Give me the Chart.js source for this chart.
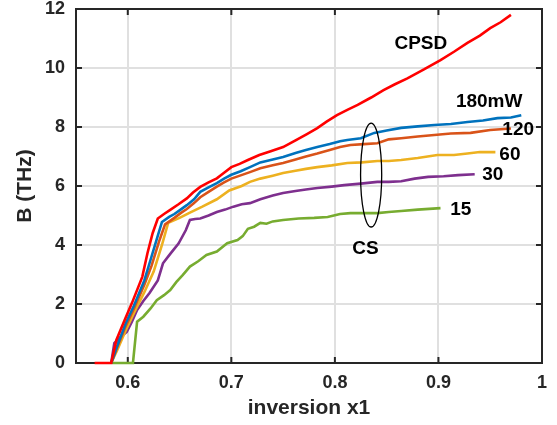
<!DOCTYPE html>
<html>
<head>
<meta charset="utf-8">
<script src="https://cdn.jsdelivr.net/npm/chart.js@4/dist/chart.umd.min.js"></script>
<style>
html,body{margin:0;padding:0;background:#fff;}
canvas{display:block;}
</style>
</head>
<body>
<canvas id="c" width="557" height="425"></canvas>
<script>
// ---- data ----
const xTickVals = [0.6, 0.7, 0.8, 0.9, 1.0];
const yTickVals = [0, 2, 4, 6, 8, 10, 12];

const redX = [0.568,0.584,0.589,0.597,0.604,0.614,0.619,0.624,0.629,0.635,0.641,0.649,0.657,0.663,0.670,0.678,0.686,0.693,0.700,0.708,0.716,0.727,0.738,0.750,0.762,0.773,0.783,0.792,0.802,0.812,0.822,0.835,0.847,0.858,0.870,0.886,0.902,0.915,0.928,0.940,0.950,0.960,0.970];
const redY = [0,0,0.78,1.46,2.03,2.92,3.72,4.40,4.90,5.05,5.19,5.38,5.58,5.78,5.97,6.12,6.26,6.45,6.64,6.75,6.88,7.05,7.18,7.32,7.55,7.76,7.96,8.18,8.40,8.58,8.75,9.00,9.25,9.45,9.65,9.95,10.27,10.55,10.85,11.10,11.35,11.55,11.80];

const blueX = [0.584,0.590,0.598,0.606,0.616,0.622,0.628,0.633,0.640,0.645,0.651,0.657,0.664,0.670,0.678,0.686,0.693,0.700,0.709,0.718,0.728,0.740,0.750,0.762,0.772,0.783,0.795,0.805,0.812,0.825,0.838,0.850,0.864,0.880,0.896,0.912,0.928,0.943,0.957,0.970,0.980];
const blueY = [0,0.60,1.35,1.95,2.80,3.50,4.20,4.78,4.95,5.05,5.20,5.35,5.55,5.80,5.95,6.10,6.25,6.38,6.50,6.64,6.80,6.90,6.98,7.12,7.22,7.32,7.42,7.52,7.56,7.62,7.80,7.88,7.97,8.02,8.07,8.10,8.17,8.22,8.30,8.32,8.40];

const orangeX = [0.584,0.590,0.598,0.606,0.616,0.623,0.630,0.636,0.645,0.651,0.657,0.664,0.670,0.678,0.686,0.693,0.700,0.709,0.718,0.728,0.740,0.750,0.762,0.772,0.783,0.795,0.805,0.815,0.828,0.841,0.852,0.864,0.880,0.896,0.912,0.931,0.950,0.970];
const orangeY = [0,0.55,1.25,1.85,2.65,3.30,4.10,4.70,4.92,5.08,5.22,5.42,5.62,5.80,5.98,6.12,6.25,6.36,6.47,6.60,6.70,6.78,6.90,7.00,7.10,7.22,7.32,7.39,7.42,7.45,7.58,7.62,7.68,7.73,7.78,7.80,7.90,7.95];

const yellowX = [0.584,0.590,0.598,0.606,0.616,0.625,0.633,0.639,0.650,0.660,0.672,0.686,0.698,0.710,0.718,0.728,0.740,0.750,0.762,0.772,0.783,0.797,0.812,0.826,0.841,0.852,0.864,0.880,0.899,0.915,0.928,0.940,0.955];
const yellowY = [0,0.45,1.10,1.70,2.40,3.10,4.00,4.75,4.92,5.10,5.30,5.55,5.85,6.00,6.14,6.25,6.35,6.44,6.52,6.58,6.64,6.70,6.78,6.80,6.85,6.85,6.88,6.95,7.05,7.05,7.10,7.15,7.15];

const purpleX = [0.584,0.587,0.593,0.599,0.604,0.609,0.615,0.621,0.629,0.634,0.641,0.649,0.656,0.660,0.665,0.670,0.678,0.686,0.694,0.702,0.710,0.718,0.728,0.740,0.750,0.762,0.772,0.783,0.797,0.809,0.825,0.841,0.852,0.864,0.877,0.890,0.905,0.919,0.935];
const purpleY = [0,0.67,0.88,1.05,1.40,1.80,2.10,2.37,2.80,3.38,3.70,4.05,4.50,4.85,4.88,4.90,5.00,5.12,5.20,5.30,5.38,5.42,5.55,5.68,5.76,5.83,5.88,5.93,5.98,6.03,6.08,6.14,6.14,6.16,6.25,6.31,6.33,6.37,6.40];

const greenX = [0.585,0.605,0.609,0.615,0.622,0.628,0.635,0.641,0.647,0.653,0.660,0.668,0.676,0.686,0.696,0.706,0.711,0.716,0.722,0.728,0.734,0.740,0.750,0.765,0.780,0.793,0.805,0.815,0.828,0.841,0.852,0.864,0.880,0.902];
const greenY = [0,0,1.40,1.57,1.85,2.13,2.30,2.47,2.75,2.98,3.27,3.45,3.66,3.78,4.06,4.17,4.30,4.55,4.62,4.75,4.72,4.80,4.85,4.90,4.92,4.95,5.05,5.08,5.08,5.08,5.12,5.15,5.20,5.25];

const seriesNames = ['CPSD', '180mW', '120', '60', '30', '15'];
const annoText = ['CPSD', '180mW', '120', '60', '30', '15', 'CS'];
const annoX = [0.883, 0.949, 0.977, 0.969, 0.9525, 0.9215, 0.8295];
const annoY = [10.81, 8.86, 7.9, 7.05, 6.37, 5.19, 3.88];
// CS ellipse: centre and half-axes in data units
const ellipseC = [0.835, 6.37];
const ellipseR = [0.0102, 1.76];

// ---- build chart ----
const zip = (xs, ys) => xs.map((x, i) => ({x: x, y: ys[i]}));
const colors = ['#FF0000', '#0072BD', '#D95319', '#EDB120', '#7E2F8E', '#77AC30'];
const xs = [redX, blueX, orangeX, yellowX, purpleX, greenX];
const ys = [redY, blueY, orangeY, yellowY, purpleY, greenY];

const AX = '#262626';
const FONT = "'Liberation Sans', Arial, Helvetica, sans-serif";

const framePlugin = {
  id: 'frame',
  beforeDatasetsDraw(chart) {
    const {ctx, chartArea: a, scales: {x, y}} = chart;
    ctx.save();
    ctx.strokeStyle = AX;
    ctx.lineWidth = 2;
    ctx.strokeRect(a.left, a.top, a.right - a.left, a.bottom - a.top);
    const L = 6;
    ctx.beginPath();
    xTickVals.forEach(v => {
      const px = x.getPixelForValue(v);
      ctx.moveTo(px, a.bottom); ctx.lineTo(px, a.bottom - L);
      ctx.moveTo(px, a.top); ctx.lineTo(px, a.top + L);
    });
    yTickVals.forEach(v => {
      const py = y.getPixelForValue(v);
      ctx.moveTo(a.left, py); ctx.lineTo(a.left + L, py);
      ctx.moveTo(a.right, py); ctx.lineTo(a.right - L, py);
    });
    ctx.stroke();
    ctx.restore();
  },
  afterDatasetsDraw(chart) {
    const {ctx, scales: {x, y}} = chart;
    ctx.save();
    ctx.fillStyle = '#000';
    ctx.font = 'bold 19px ' + FONT;
    ctx.textAlign = 'center';
    ctx.textBaseline = 'middle';
    annoText.forEach((t, i) => {
      ctx.fillText(t, x.getPixelForValue(annoX[i]), y.getPixelForValue(annoY[i]));
    });
    const cx = x.getPixelForValue(ellipseC[0]);
    const cy = y.getPixelForValue(ellipseC[1]);
    const rx = Math.abs(x.getPixelForValue(ellipseC[0] + ellipseR[0]) - cx);
    const ry = Math.abs(y.getPixelForValue(ellipseC[1] + ellipseR[1]) - cy);
    ctx.beginPath();
    ctx.ellipse(cx, cy, rx, ry, 0, 0, Math.PI * 2);
    ctx.strokeStyle = '#000';
    ctx.lineWidth = 1.3;
    ctx.stroke();
    ctx.restore();
  }
};

new Chart(document.getElementById('c'), {
  type: 'line',
  data: {
    datasets: seriesNames.map((n, i) => ({
      label: n,
      data: zip(xs[i], ys[i]),
      borderColor: colors[i],
      backgroundColor: colors[i],
      borderWidth: 2.6,
      pointRadius: 0,
      tension: 0,
      fill: false,
      clip: false
    }))
  },
  options: {
    responsive: false,
    animation: false,
    devicePixelRatio: 1,
    layout: {padding: {top: 9, right: 15, left: 0, bottom: 0}},
    plugins: {legend: {display: false}, tooltip: {enabled: false}},
    scales: {
      x: {
        type: 'linear',
        min: 0.55, max: 1.0,
        afterBuildTicks: s => { s.ticks = xTickVals.map(v => ({value: v})); },
        afterFit: s => { s.height = 62; s.paddingLeft = 0; s.paddingRight = 0; },
        grid: {color: '#e0e0e0', lineWidth: 2, drawTicks: false},
        border: {display: false},
        ticks: {
          padding: 9,
          color: AX,
          font: {family: FONT, size: 18, weight: 'bold'},
          maxRotation: 0,
          callback: v => (Math.abs(v - 1) < 1e-9 ? '1' : String(Math.round(v * 10) / 10))
        },
        title: {
          display: true, text: 'inversion x1', color: AX,
          font: {family: FONT, size: 21, weight: 'bold', lineHeight: 1},
          padding: {top: 0, bottom: 6}
        }
      },
      y: {
        type: 'linear',
        min: 0, max: 12,
        afterBuildTicks: s => { s.ticks = yTickVals.map(v => ({value: v})); },
        afterFit: s => { s.width = 76; s.paddingTop = 0; s.paddingBottom = 0; },
        grid: {color: '#e0e0e0', lineWidth: 2, drawTicks: false},
        border: {display: false},
        ticks: {
          padding: 11,
          color: AX,
          font: {family: FONT, size: 18, weight: 'bold'}
        },
        title: {
          display: true, text: 'B (THz)', color: AX,
          font: {family: FONT, size: 21, weight: 'bold', lineHeight: 1},
          padding: {top: 15, bottom: 0}
        }
      }
    }
  },
  plugins: [framePlugin]
});
</script>
</body>
</html>
